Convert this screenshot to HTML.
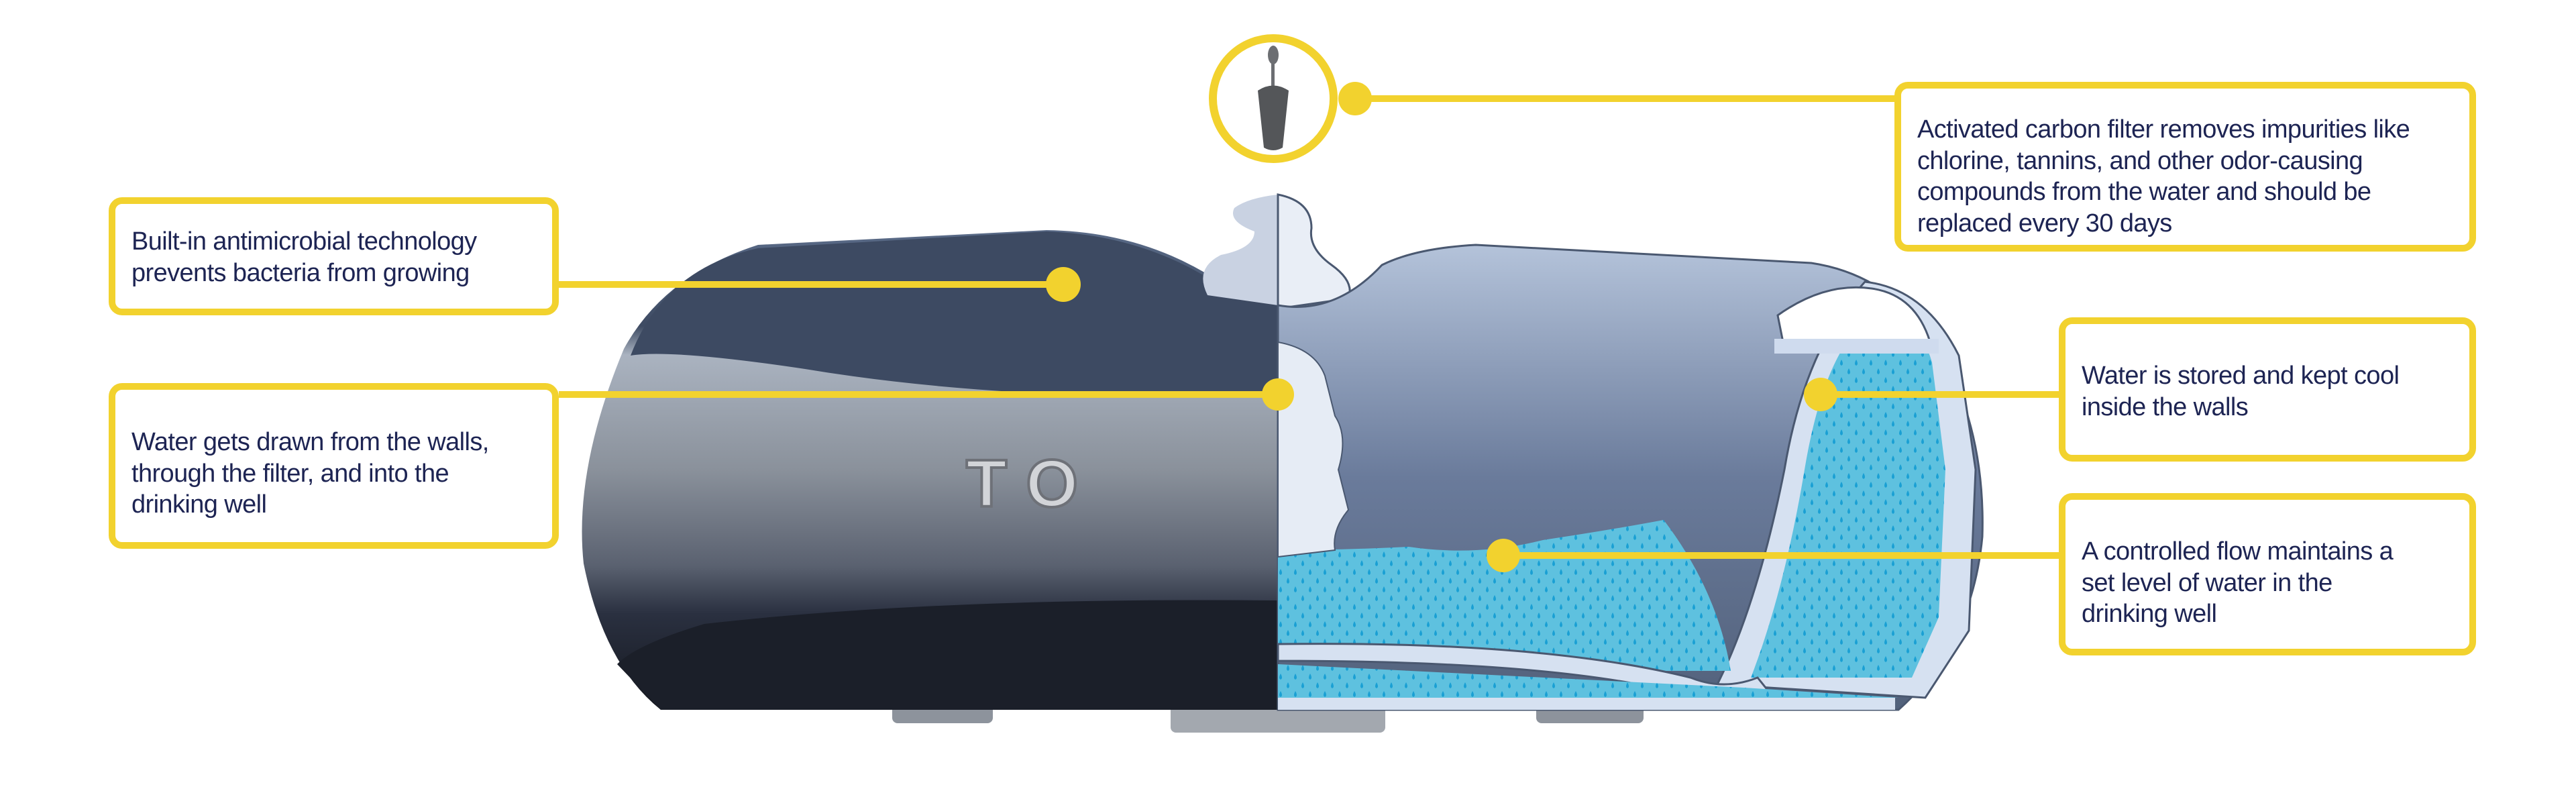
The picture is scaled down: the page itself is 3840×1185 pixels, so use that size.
<!DOCTYPE html>
<html><head><meta charset="utf-8"><style>
html,body{margin:0;padding:0;background:#fff;}
body{width:3840px;height:1185px;position:relative;overflow:hidden;font-family:"Liberation Sans",sans-serif;}
.box{position:absolute;box-sizing:border-box;border:10px solid #f2d22e;border-radius:20px;background:#fff;color:#1d2453;font-size:38px;line-height:46.5px;padding:0 0 0 24px;letter-spacing:-0.6px;white-space:nowrap;}
svg{position:absolute;left:0;top:0;}
</style></head><body>
<svg width="3840" height="1185" viewBox="0 0 3840 1185">
<defs>
<pattern id="drops" width="22" height="26" patternUnits="userSpaceOnUse">
<rect width="22" height="26" fill="#5ec1df"/>
<path d="M6 3 Q10 10 6 12 Q2 10 6 3Z" fill="#1aa0d4"/>
<path d="M17 16 Q21 23 17 25 Q13 23 17 16Z" fill="#1aa0d4"/>
</pattern>
<linearGradient id="lg" x1="0" y1="0" x2="0" y2="1">
<stop offset="0" stop-color="#5a6b88"/><stop offset="0.2" stop-color="#3e4b63"/>
<stop offset="0.26" stop-color="#aab3c0"/><stop offset="0.5" stop-color="#8a919b"/>
<stop offset="0.7" stop-color="#5a6170"/><stop offset="0.8" stop-color="#2a3040"/><stop offset="1" stop-color="#15181f"/>
</linearGradient>
<linearGradient id="rg" x1="0" y1="0" x2="0" y2="1">
<stop offset="0" stop-color="#b4c3da"/><stop offset="0.5" stop-color="#6a7b9b"/><stop offset="1" stop-color="#52617b"/>
</linearGradient>
</defs>
<rect x="1330" y="1050" width="150" height="28" rx="8" fill="#8d939c"/>
<rect x="1745" y="1050" width="320" height="42" rx="8" fill="#a3a8af"/>
<rect x="2290" y="1050" width="160" height="28" rx="8" fill="#8d939c"/>
<path d="M1905 455 L1810 415 Q1700 345 1560 343 L1130 365 Q990 410 930 520 Q855 700 870 840 Q900 990 985 1058 L1905 1058Z" fill="url(#lg)"/>
<path d="M940 530 Q990 400 1130 370 L1560 345 Q1700 350 1810 420 L1905 455 L1905 590 Q1500 600 1200 550 Q1000 520 940 530Z" fill="#3d4a62"/>
<path d="M1905 895 Q1400 890 1050 930 Q950 960 920 990 L985 1058 L1905 1058Z" fill="#1b1f29"/>
<text x="1440" y="755" font-family="Liberation Sans" font-weight="bold" font-size="100" fill="#d2d4d8" stroke="#6e7178" stroke-width="4" letter-spacing="30">TO</text>
<path d="M1905 290 Q1860 295 1840 310 Q1830 330 1870 345 Q1870 370 1820 380 Q1780 400 1800 440 L1905 455Z" fill="#c9d2e2"/>
<path d="M1905 290 Q1955 300 1955 340 Q1950 370 1985 395 Q2020 420 2010 445 L1905 460Z" fill="#e9eef6" stroke="#4a5870" stroke-width="3"/>
<path d="M1905 455 Q1990 470 2060 395 Q2110 370 2200 365 L2700 392 Q2820 410 2890 520 Q2960 640 2955 800 Q2940 960 2830 1058 L1905 1058Z" fill="url(#rg)" stroke="#4a5870" stroke-width="3"/>
<path d="M2560 1020 Q2620 900 2660 700 Q2690 520 2780 420 Q2870 430 2920 530 L2945 700 L2935 940 L2870 1040Z" fill="#d6e1f1" stroke="#4a5870" stroke-width="3"/>
<path d="M2610 1010 Q2660 880 2690 700 Q2720 520 2790 470 Q2860 470 2880 540 L2900 700 L2890 920 L2850 1010Z" fill="url(#drops)"/>
<path d="M2650 470 Q2720 420 2790 430 Q2860 440 2880 520 L2660 520Z" fill="#fff" stroke="#4a5870" stroke-width="3"/>
<rect x="2645" y="505" width="245" height="22" fill="#cfdbee"/>
<path d="M1905 820 Q2000 820 2100 815 Q2200 830 2300 805 Q2400 790 2480 775 Q2560 880 2580 1000 L2480 1000 Q2300 960 1905 970Z" fill="url(#drops)"/>
<path d="M1905 960 Q2300 955 2520 1010 Q2570 1030 2620 1010 L2640 1035 Q2560 1060 2490 1030 Q2300 985 1905 985Z" fill="#d6e1f1" stroke="#4a5870" stroke-width="3"/>
<path d="M1905 990 L2600 1025 L2830 1040 L1905 1040Z" fill="url(#drops)"/>
<rect x="1905" y="1040" width="920" height="18" fill="#d6e1f1"/>
<path d="M1905 510 Q1960 520 1975 560 L1990 620 Q2010 650 1995 700 L2010 760 Q1985 790 1990 820 L1905 830Z" fill="#e6ecf5" stroke="#4a5870" stroke-width="2"/>
<g fill="#f2d22e">
<rect x="2020" y="142" width="806" height="10"/>
<rect x="833" y="419" width="752" height="10"/>
<rect x="833" y="583" width="1072" height="10"/>
<rect x="2714" y="583" width="357" height="10"/>
<rect x="2241" y="823" width="830" height="10"/>
<circle cx="2020" cy="147" r="25"/>
<circle cx="1585" cy="424" r="26"/>
<circle cx="1905" cy="588" r="24"/>
<circle cx="2714" cy="588" r="25"/>
<circle cx="2241" cy="828" r="25"/>
</g>
<circle cx="1898" cy="147" r="90" fill="#fff" stroke="#f2d22e" stroke-width="12"/>
<ellipse cx="1898" cy="82" rx="8" ry="14" fill="#6c6e72"/>
<rect x="1895" y="90" width="5" height="40" fill="#6c6e72"/>
<path d="M1875 135 Q1898 120 1921 135 L1912 220 Q1898 228 1884 220Z" fill="#545659"/>
</svg>
<div class="box" style="left:2824px;top:122px;width:867px;height:253px;padding-top:38px;">Activated carbon filter removes impurities like<br>chlorine, tannins, and other odor-causing<br>compounds from the water and should be<br>replaced every 30 days</div>
<div class="box" style="left:162px;top:294px;width:671px;height:176px;padding-top:33px;">Built-in antimicrobial technology<br>prevents bacteria from growing</div>
<div class="box" style="left:162px;top:571px;width:671px;height:247px;padding-top:55px;">Water gets drawn from the walls,<br>through the filter, and into the<br>drinking well</div>
<div class="box" style="left:3069px;top:473px;width:622px;height:215px;padding-top:54px;">Water is stored and kept cool<br>inside the walls</div>
<div class="box" style="left:3069px;top:735px;width:622px;height:242px;padding-top:54px;">A controlled flow maintains a<br>set level of water in the<br>drinking well</div>
</body></html>
